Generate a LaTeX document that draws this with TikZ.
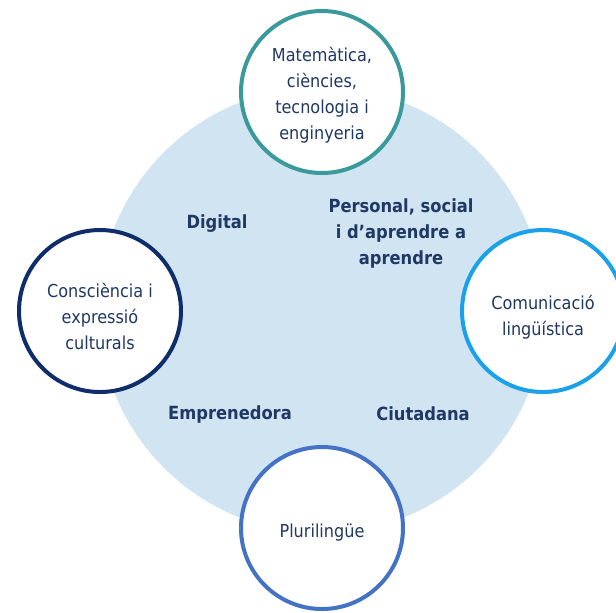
\documentclass[tikz,border=0pt]{standalone}
\usepackage{fontspec}
\setmainfont{DejaVu Sans}[FakeStretch=0.9]
\definecolor{bigfill}{HTML}{D0E4F2}
\definecolor{ringteal}{HTML}{3A9A9B}
\definecolor{ringnavy}{HTML}{0E2D6A}
\definecolor{ringsky}{HTML}{1BA1EA}
\definecolor{ringblue}{HTML}{4472C4}
\definecolor{txt}{HTML}{1F3864}
\tikzset{
  ring/.style={circle, draw, line width=3pt, fill=white, minimum size=121.5pt, inner sep=0pt},
  ringtxt/.style={align=center, text=txt, inner sep=0pt, font=\fontsize{13.4}{19.5}\selectfont},
  lbl/.style={align=center, text=txt, inner sep=0pt, font=\fontsize{13.6}{19.5}\selectfont\bfseries}
}
\begin{document}
\begin{tikzpicture}[x=0.75pt,y=-0.75pt]
\useasboundingbox (0,0) rectangle (616,612);
\clip (0,0) rectangle (616,612);
\fill[bigfill] (321.5,310) circle[radius=167.25pt];
\node[ring, draw=ringteal] (mat) at (322,92) {};
\node[ring, draw=ringnavy] (cons) at (100,311) {};
\node[ring, draw=ringsky] (com) at (543,311) {};
\node[ring, draw=ringblue] (plu) at (322,528) {};
\node[ringtxt] (matT) at ([yshift=-2.5pt]mat.center) {Matemàtica,\\ciències,\\tecnologia i\\enginyeria};
\node[ringtxt] (consT) at ([yshift=-4pt]cons.center) {Consciència i\\expressió\\culturals};
\node[ringtxt] (comT) at ([yshift=-4.5pt]com.center) {Comunicació\\lingüística};
\node[ringtxt] (pluT) at ([yshift=-3.75pt]plu.center) {Plurilingüe};
\node[lbl] (dig) at (217,223.5) {Digital};
\node[lbl] (pers) at (401,233) {Personal, social\\i d’aprendre a\\aprendre};
\node[lbl] (emp) at (230,414) {Emprenedora};
\node[lbl] (ciu) at (423,414) {Ciutadana};
\end{tikzpicture}
\end{document}
